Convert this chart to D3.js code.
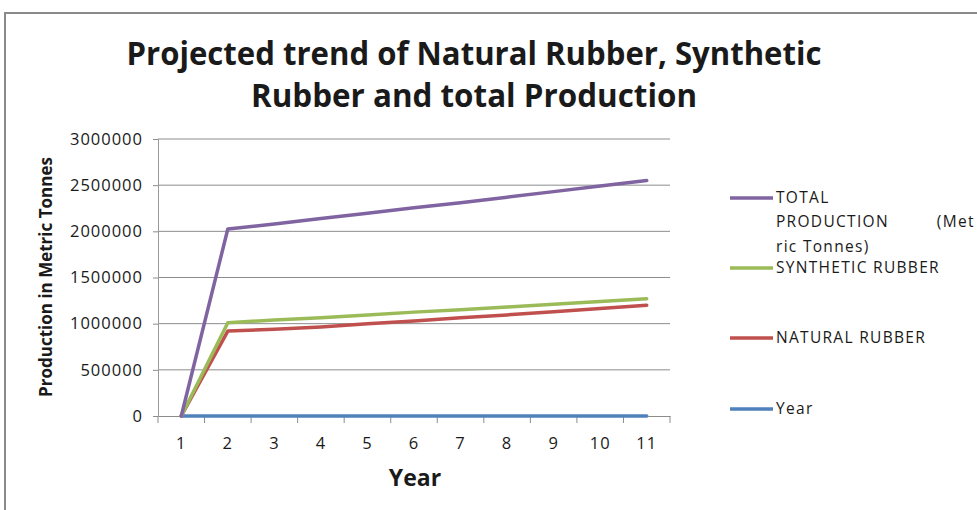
<!DOCTYPE html>
<html>
<head>
<meta charset="utf-8">
<script src="https://cdn.jsdelivr.net/npm/d3@7"></script>
<style>
  body { margin: 0; background: #fff; }
  svg { display: block; }
  text { font-family: "Open Sans", sans-serif; fill: #1a1a1a; }
</style>
</head>
<body>
<div id="chart"></div>
<script>
// data
var years = ["1", "2", "3", "4", "5", "6", "7", "8", "9", "10", "11"];
var totalProduction = [0, 2025000, 2080000, 2140000, 2195000, 2255000, 2310000, 2370000, 2430000, 2490000, 2550000];
var syntheticRubber = [0, 1010000, 1040000, 1065000, 1095000, 1125000, 1150000, 1180000, 1210000, 1240000, 1270000];
var naturalRubber = [0, 920000, 940000, 965000, 1000000, 1030000, 1065000, 1095000, 1130000, 1165000, 1200000];
var yearValues = [1, 2, 3, 4, 5, 6, 7, 8, 9, 10, 11];
var yTicks = [0, 500000, 1000000, 1500000, 2000000, 2500000, 3000000];

var width = 977, height = 510;

var svg = d3.select("#chart").append("svg")
    .attr("width", width)
    .attr("height", height);

// outer chart border (cut off at right and bottom)
svg.append("path")
    .attr("d", "M5,510 L5,13 L977,13")
    .style("fill", "none")
    .style("stroke", "#8a8a8a")
    .style("stroke-width", 2);

var x = d3.scaleBand()
    .domain(years)
    .range([158, 670])
    .padding(0);

var y = d3.scaleLinear()
    .domain([0, 3000000])
    .range([416, 139]);

// gridlines
svg.append("g").selectAll("line")
    .data(yTicks.slice(1))
    .enter().append("line")
    .attr("x1", 158).attr("x2", 670)
    .attr("y1", function(d) { return y(d); })
    .attr("y2", function(d) { return y(d); })
    .style("stroke", "#8c8c8c")
    .style("stroke-width", 1);

// y axis
var yAxis = svg.append("g")
    .attr("transform", "translate(158,0)")
    .call(d3.axisLeft(y).tickValues(yTicks).tickSize(5).tickPadding(10).tickFormat(d3.format("d")));
yAxis.select(".domain").style("stroke", "#9a9a9a");
yAxis.selectAll(".tick line").style("stroke", "#8c8c8c");
yAxis.selectAll("text")
    .style("font-size", "16.5px")
    .style("letter-spacing", "1px")
    .style("font-family", "Open Sans")
    .style("fill", "#1a1a1a");

// x axis: labels in band centres, ticks on band edges
var xAxis = svg.append("g")
    .attr("transform", "translate(0,416)")
    .call(d3.axisBottom(x).tickSize(0).tickPadding(21));
xAxis.select(".domain").style("stroke", "#8c8c8c");
xAxis.selectAll("text")
    .style("font-size", "16.5px")
    .style("letter-spacing", "1px")
    .style("font-family", "Open Sans")
    .style("fill", "#1a1a1a");

var edges = years.map(function(d) { return x(d); }).concat([x.range()[1]]);
svg.append("g").selectAll("line")
    .data(edges)
    .enter().append("line")
    .attr("x1", function(d) { return d; })
    .attr("x2", function(d) { return d; })
    .attr("y1", 416).attr("y2", 423)
    .style("stroke", "#8c8c8c");

// series
var series = [
  { name: "Year", values: yearValues, color: "#4f81bd" },
  { name: "NATURAL RUBBER", values: naturalRubber, color: "#c0504d" },
  { name: "SYNTHETIC RUBBER", values: syntheticRubber, color: "#9bbb59" },
  { name: "TOTAL", values: totalProduction, color: "#8064a2" }
];

var line = d3.line()
    .x(function(d, i) { return x(years[i]) + x.bandwidth() / 2; })
    .y(function(d) { return y(d); });

svg.append("g").selectAll("path")
    .data(series)
    .enter().append("path")
    .attr("d", function(s) { return line(s.values); })
    .style("fill", "none")
    .style("stroke", function(s) { return s.color; })
    .style("stroke-width", 3.5)
    .style("stroke-linejoin", "round")
    .style("stroke-linecap", "round");

// title
var title = svg.append("text")
    .attr("text-anchor", "middle")
    .style("font-size", "33px")
    .style("font-weight", "bold");
title.append("tspan").attr("x", 474).attr("y", 65)
    .attr("textLength", 695).attr("lengthAdjust", "spacingAndGlyphs")
    .text("Projected trend of Natural Rubber, Synthetic");
title.append("tspan").attr("x", 474).attr("y", 107)
    .attr("textLength", 446).attr("lengthAdjust", "spacingAndGlyphs")
    .text("Rubber and total Production");

// axis titles
svg.append("text")
    .attr("transform", "translate(52,277) rotate(-90)")
    .attr("text-anchor", "middle")
    .style("font-size", "17px")
    .style("font-weight", "bold")
    .text("Production in Metric Tonnes");

svg.append("text")
    .attr("x", 415).attr("y", 486)
    .attr("text-anchor", "middle")
    .style("font-size", "23px")
    .style("font-weight", "bold")
    .text("Year");

// legend
var legendItems = [
  { color: "#8064a2", y: 198, lines: ["TOTAL", "PRODUCTION\u00a0\u00a0\u00a0\u00a0\u00a0\u00a0\u00a0\u00a0\u00a0(Met", "ric Tonnes)"] },
  { color: "#9bbb59", y: 268, lines: ["SYNTHETIC RUBBER"] },
  { color: "#c0504d", y: 338, lines: ["NATURAL RUBBER"] },
  { color: "#4f81bd", y: 409, lines: ["Year"] }
];

var legend = svg.append("g").selectAll("g")
    .data(legendItems)
    .enter().append("g");

legend.append("line")
    .attr("x1", 730).attr("x2", 773)
    .attr("y1", function(d) { return d.y; })
    .attr("y2", function(d) { return d.y; })
    .style("stroke", function(d) { return d.color; })
    .style("stroke-width", 3.5);

legend.append("text")
    .style("font-size", "15.5px")
    .style("letter-spacing", "1.3px")
    .each(function(d) {
      var t = d3.select(this);
      d.lines.forEach(function(l, i) {
        t.append("tspan")
          .attr("x", 776)
          .attr("y", d.y + 5 + i * 24.3)
          .text(l);
      });
    });
</script>
</body>
</html>
